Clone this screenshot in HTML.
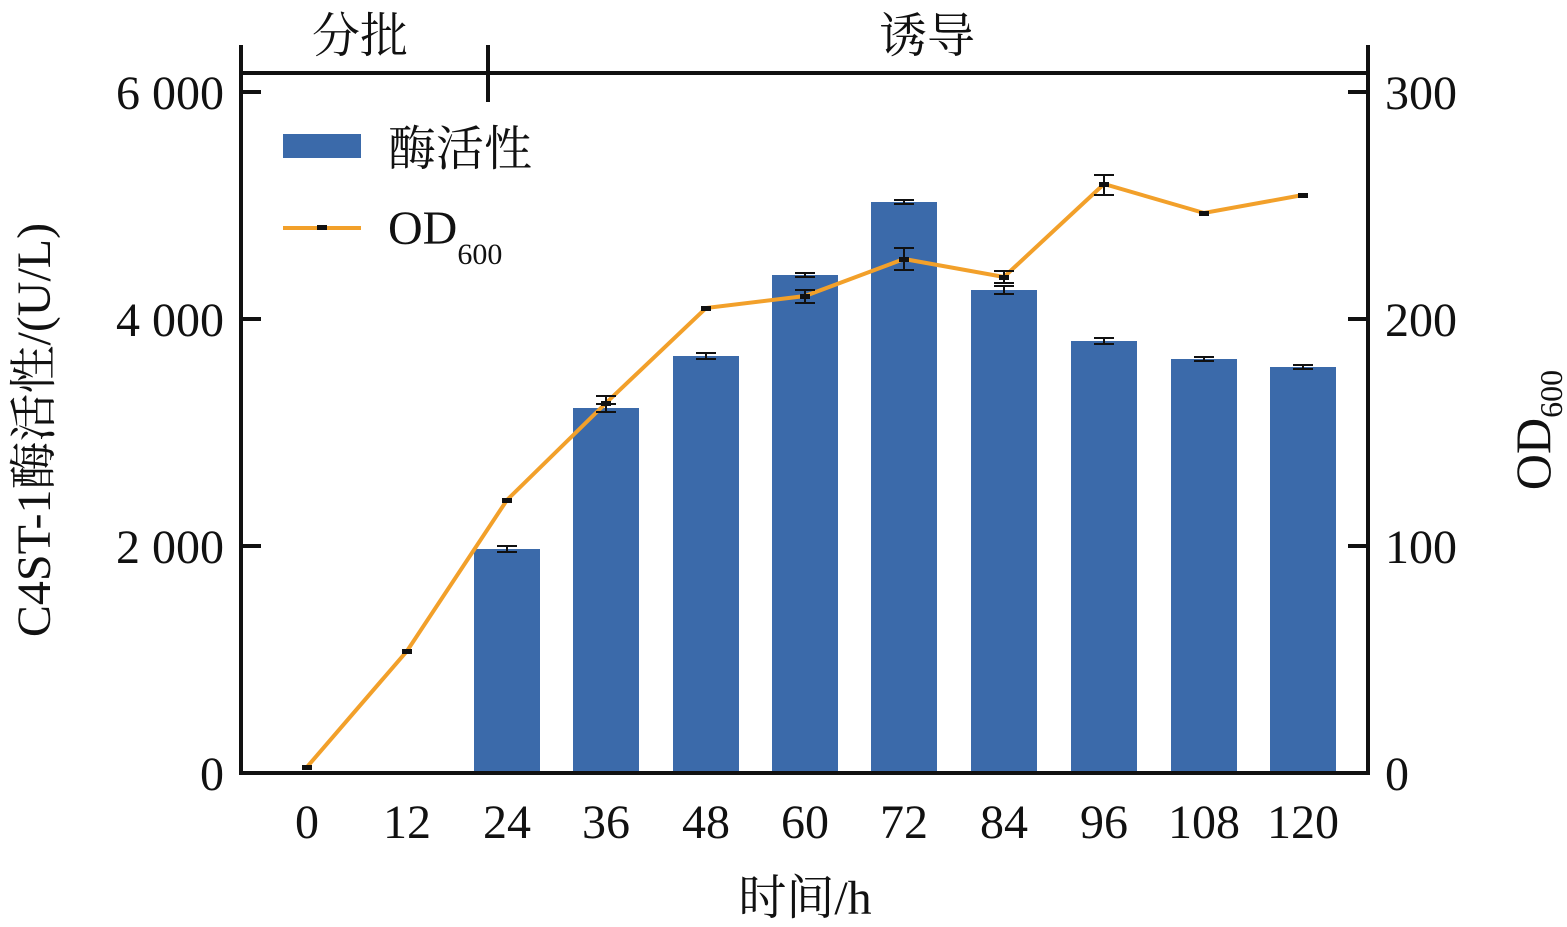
<!DOCTYPE html>
<html><head><meta charset="utf-8"><style>
html,body{margin:0;padding:0;background:#fff}
svg text{font-family:"Liberation Serif","Noto Serif CJK SC",serif;fill:#111}
</style></head><body>
<svg width="1567" height="922" viewBox="0 0 1567 922" xmlns="http://www.w3.org/2000/svg">
<g fill="#3b6aaa">
<rect x="474" y="549" width="66" height="224"/>
<rect x="573" y="408" width="66" height="365"/>
<rect x="673" y="356" width="66" height="417"/>
<rect x="772" y="275" width="66" height="498"/>
<rect x="871" y="202" width="66" height="571"/>
<rect x="971" y="290" width="66" height="483"/>
<rect x="1071" y="341" width="66" height="432"/>
<rect x="1171" y="359" width="66" height="414"/>
<rect x="1270" y="367" width="66" height="406"/>
</g>
<g stroke="#111" stroke-width="2">
<path d="M497 546h20M507 546v6M497 552h20"/>
<path d="M596 404h20M606 404v8M596 412h20"/>
<path d="M696 353h20M706 353v6M696 359h20"/>
<path d="M795 273h20M805 273v4M795 277h20"/>
<path d="M894 200h20M904 200v4M894 204h20"/>
<path d="M994 286h20M1004 286v8M994 294h20"/>
<path d="M1094 338h20M1104 338v6M1094 344h20"/>
<path d="M1194 357h20M1204 357v4M1194 361h20"/>
<path d="M1293 365h20M1303 365v4M1293 369h20"/>
</g>
<polyline fill="none" stroke="#f2a02a" stroke-width="4" points="307,767 407,651 507,500 606,403 706,308 805,296 904,259 1004,277 1104,184 1204,213 1303,195"/>
<g stroke="#111" stroke-width="2">
<path d="M596 396h20M606 396v16M596 412h20"/>
<path d="M795 290h20M805 290v13M795 303h20"/>
<path d="M894 248h20M904 248v22M894 270h20"/>
<path d="M994 271h20M1004 271v12M994 283h20"/>
<path d="M1094 175h20M1104 175v20M1094 195h20"/>
</g>
<g fill="#111">
<rect x="302" y="765" width="10" height="5"/><rect x="402" y="649" width="10" height="5"/><rect x="502" y="498" width="10" height="5"/><rect x="601" y="401" width="10" height="5"/><rect x="701" y="306" width="10" height="5"/><rect x="800" y="294" width="10" height="5"/><rect x="899" y="257" width="10" height="5"/><rect x="999" y="275" width="10" height="5"/><rect x="1099" y="182" width="10" height="5"/><rect x="1199" y="211" width="10" height="5"/><rect x="1298" y="193" width="10" height="5"/>
</g>
<g stroke="#111" stroke-width="4" fill="none">
<path d="M241 45V775M1368 45V775M239 773H1370M239 73H1370M488 45V102"/>
<path d="M241 92h20M241 319h20M241 546h20M1368 92h-20M1368 319h-20M1368 546h-20"/>
</g>
<g font-size="48" text-anchor="end">
<text x="224" y="109">6 000</text><text x="224" y="336">4 000</text><text x="224" y="563">2 000</text><text x="224" y="790">0</text>
</g>
<g font-size="48" text-anchor="start">
<text x="1385" y="109">300</text><text x="1385" y="563">100</text><text x="1385" y="336">200</text><text x="1385" y="790">0</text>
</g>
<g font-size="48" text-anchor="middle">
<text x="307" y="838">0</text><text x="407" y="838">12</text><text x="507" y="838">24</text><text x="606" y="838">36</text><text x="706" y="838">48</text><text x="805" y="838">60</text><text x="904" y="838">72</text><text x="1004" y="838">84</text><text x="1104" y="838">96</text><text x="1204" y="838">108</text><text x="1303" y="838">120</text>
<text x="805" y="914">时间/h</text>
<text x="360" y="52">分批</text><text x="927" y="52">诱导</text>
</g>
<text font-size="48" text-anchor="middle" transform="translate(50,430) rotate(-90)">C4ST-1酶活性/(U/L)</text>
<text font-size="50" text-anchor="middle" transform="translate(1550,430) rotate(-90)">OD<tspan font-size="32" dy="12">600</tspan></text>
<rect x="283" y="134" width="78" height="24" fill="#3b6aaa"/>
<text x="388" y="165" font-size="48">酶活性</text>
<path d="M283 228h78" stroke="#f2a02a" stroke-width="4"/>
<rect x="317" y="225" width="10" height="5" fill="#111"/>
<text x="388" y="244" font-size="48">OD<tspan font-size="30" dy="20">600</tspan></text>
</svg>
</body></html>
